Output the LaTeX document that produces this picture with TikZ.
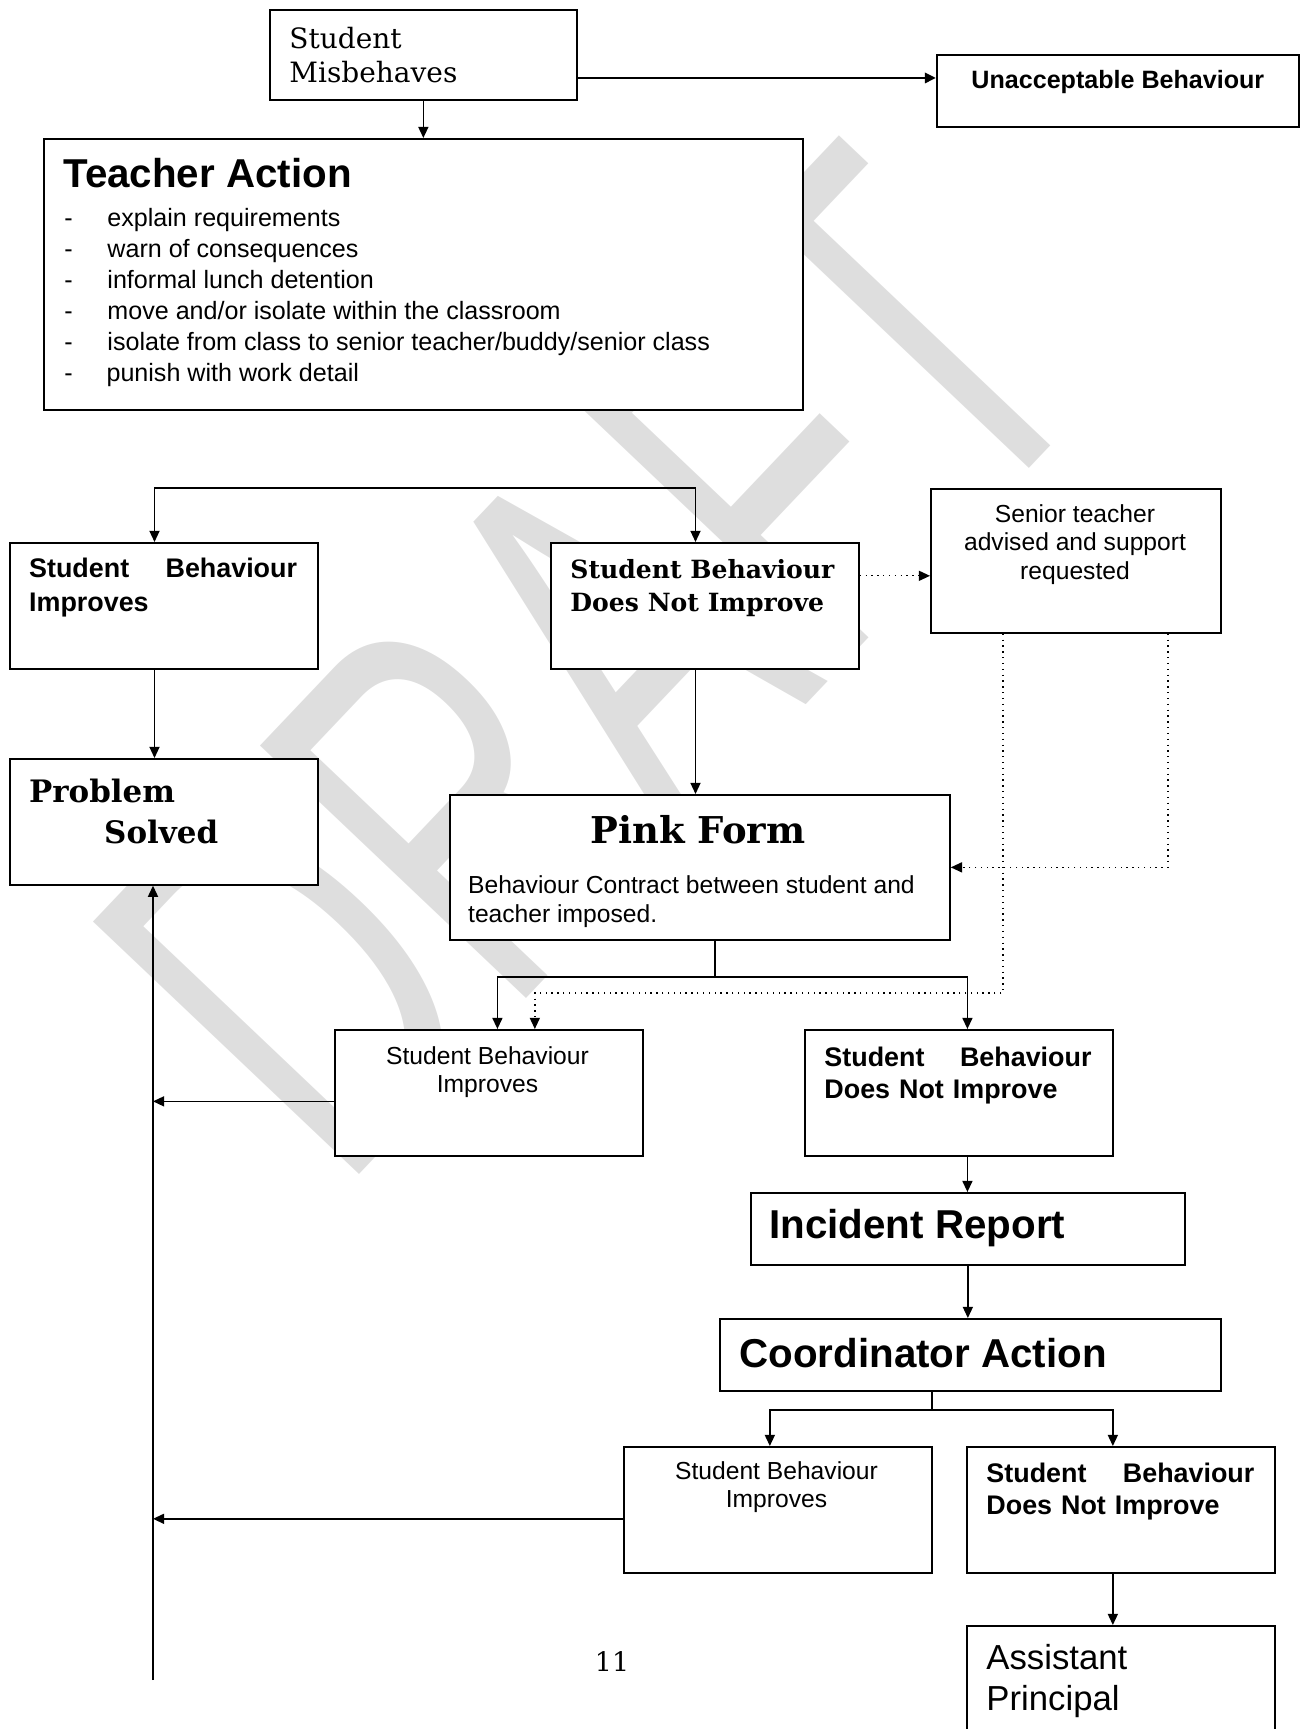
\documentclass[tikz,border=0pt]{standalone}
\usepackage{fontspec}
\setmainfont{Liberation Sans}
\newfontfamily\slab{DejaVu Serif}
\usetikzlibrary{arrows.meta}
\newcommand{\fs}[2]{\fontsize{#1}{#2}\selectfont}
\tikzstyle{box} = [rectangle, draw=black, fill=white, line width=0.8pt, inner sep=0pt, anchor=north west]
\tikzstyle{cell} = [box, minimum width=137.5pt, minimum height=56.2pt]
\tikzstyle{txt} = [inner sep=0pt, anchor=north west, align=left]
\tikzstyle{line} = [line width=0.7pt]
\tikzstyle{arrow} = [line width=0.7pt, ->]
\tikzstyle{dotarrow} = [line width=0.6pt, dotted, ->]

\begin{document}
\begin{tikzpicture}[x=0.4464pt, y=-0.4464pt, >={Triangle[length=5pt,width=4.5pt]}]
  \useasboundingbox (0,0) rectangle (1306,1729);

  % watermark
  \node (wm) [rotate=46.5, xscale=0.63, anchor=base west, inner sep=0pt, text=black!13, font=\fs{238}{238}] at (340,1195) {DRAFT};

  % boxes
  \node (sm) [box, minimum width=137pt, minimum height=40.2pt] at (269,9) {};
  \node (ub) [box, minimum width=161.6pt, minimum height=32.1pt] at (936,54) {};
  \node (ta) [box, minimum width=338.8pt, minimum height=121pt] at (43,138) {};
  \node (sbi1) [cell] at (9,542) {};
  \node (sbd1) [cell] at (550,542) {};
  \node (st) [box, minimum width=129.5pt, minimum height=64.3pt] at (930,488) {};
  \node (ps) [cell] at (9,758) {};
  \node (pf) [box, minimum width=223.2pt, minimum height=64.7pt] at (449,794) {};
  \node (sbi2) [cell] at (334,1029) {};
  \node (sbd2) [cell] at (804,1029) {};
  \node (ir) [box, minimum width=193.7pt, minimum height=32.1pt] at (750,1192) {};
  \node (ca) [box, minimum width=223.6pt, minimum height=32.1pt] at (719,1318) {};
  \node (sbi3) [cell] at (623,1446) {};
  \node (sbd3) [cell] at (966,1446) {};
  \node (ap) [cell, minimum height=60pt] at (966,1625) {};

  % texts
  \node (sm-t) [txt, font=\slab\fs{12.5}{15.3}] at (289,27) {Student\\Misbehaves};
  \node (ub-t) [txt, anchor=west, font=\bfseries\fs{11.2}{13}] at (971,82) {Unacceptable Behaviour};
  \node (ta-t) [txt, anchor=west, font=\bfseries\fs{18}{22}] at (63,173) {Teacher Action};
  \node (ta-l) [txt, font=\fs{11.2}{13.8}] at (64,208) {%
    \makebox[19.2pt][l]{-}explain requirements\\
    \makebox[19.2pt][l]{-}warn of consequences\\
    \makebox[19.2pt][l]{-}informal lunch detention\\
    \makebox[19.2pt][l]{-}move and/or isolate within the classroom\\
    \makebox[19.2pt][l]{-}isolate from class to senior teacher/buddy/senior class\\
    \makebox[18.8pt][l]{-}punish with work detail};
  \node (sbi1-t) [txt, text width=119.6pt, font=\bfseries\fs{12}{14.8}] at (28.7,558) {Student\hfill Behaviour\\Improves};
  \node (sbd1-t) [txt, font=\slab\bfseries\fs{11.2}{14.8}] at (570,559) {Student Behaviour\\Does Not Improve};
  \node (st-t) [txt, anchor=north, align=center, font=\fs{11}{12.8}] at (1075,504) {Senior teacher\\advised and support\\requested};
  \node (ps-t) [txt, font=\slab\bfseries\fs{13.8}{18.2}] at (28.7,778.5) {Problem\\\hspace*{33.5pt}Solved};
  \node (pf-t) [txt, anchor=center, font=\slab\bfseries\fs{16.5}{19}] at (698,829.5) {Pink Form};
  \node (pf-b) [txt, font=\fs{11}{12.8}] at (467.7,875.5) {Behaviour Contract between student and\\teacher imposed.};
  \node (sbi2-t) [txt, anchor=north, align=center, font=\fs{11}{12.3}] at (487.5,1046.5) {Student Behaviour\\Improves};
  \node (sbd2-t) [txt, text width=119.2pt, font=\bfseries\fs{12}{14.3}] at (824,1047) {Student\hfill Behaviour\\Does Not Improve};
  \node (ir-t) [txt, anchor=west, font=\bfseries\fs{18}{22}] at (769,1228) {Incident Report};
  \node (ca-t) [txt, anchor=west, font=\bfseries\fs{18}{22}] at (739,1353) {Coordinator Action};
  \node (sbi3-t) [txt, anchor=north, align=center, font=\fs{11}{12.8}] at (776.5,1461) {Student Behaviour\\Improves};
  \node (sbd3-t) [txt, text width=119.6pt, font=\bfseries\fs{12}{14.3}] at (986,1462.5) {Student\hfill Behaviour\\Does Not Improve};
  \node (ap-t) [txt, font=\fs{15.5}{18.2}] at (986,1644) {Assistant\\Principal};
  \node (pg) [txt, anchor=center, font=\slab\fs{12}{14}] at (612,1662) {11};

  % connectors
  \draw [arrow, line width=1.3pt] ([yshift=-10.3pt]sm.east) -- ([yshift=-10.3pt]sm.east -| ub.west);
  \draw [arrow] (sm.south) -- (sm.south |- ta.north);
  \draw [line, <->] ([xshift=-4.2pt]sbi1.north) -- ++(0,-54) -| ([xshift=-4.2pt]sbd1.north);
  \draw [dotarrow] ([yshift=13.4pt]sbd1.east) -- ([yshift=13.4pt]sbd1.east -| st.west);
  \draw [arrow] ([xshift=-4.2pt]sbi1.south) -- ([xshift=-4.2pt]ps.north);
  \draw [arrow] ([xshift=-4.2pt]sbd1.south) -- ([xshift=-4.2pt]sbd1.south |- pf.north);
  \draw [dotarrow] ([xshift=-24.1pt]st.south east) |- (pf.east);
  \draw [dotarrow] ([xshift=32.6pt]st.south west) |- ([xshift=20.5pt,yshift=16pt]sbi2.north) -- ([xshift=20.5pt]sbi2.north);
  \draw [line] ([xshift=6.7pt]pf.south) -- ++(0,36) coordinate (pfsplit);
  \draw [arrow] (pfsplit) -| ([xshift=3.8pt]sbi2.north);
  \draw [arrow] (pfsplit) -| ([xshift=3.8pt]sbd2.north);
  \coordinate (backline) at (153,1680);
  \draw [arrow] (backline) -- (backline |- ps.south);
  \draw [arrow] ([yshift=-3.8pt]sbi2.west) -- ([yshift=-3.8pt]sbi2.west -| backline);
  \draw [arrow] ([xshift=3.8pt]sbd2.south) -- ([xshift=3.8pt]sbd2.south |- ir.north);
  \draw [arrow] (ir.south) -- (ir.south |- ca.north);
  \draw [line] ([xshift=-17.2pt]ca.south) -- ++(0,18) coordinate (casplit);
  \draw [arrow] (casplit) -| ([xshift=-3.6pt]sbi3.north);
  \draw [arrow] (casplit) -| ([xshift=-3.6pt]sbd3.north);
  \draw [arrow] ([yshift=-4pt]sbi3.west) -- ([yshift=-4pt]sbi3.west -| backline);
  \draw [arrow] ([xshift=-3.6pt]sbd3.south) -- ([xshift=-3.6pt]sbd3.south |- ap.north);

\end{tikzpicture}
\end{document}
